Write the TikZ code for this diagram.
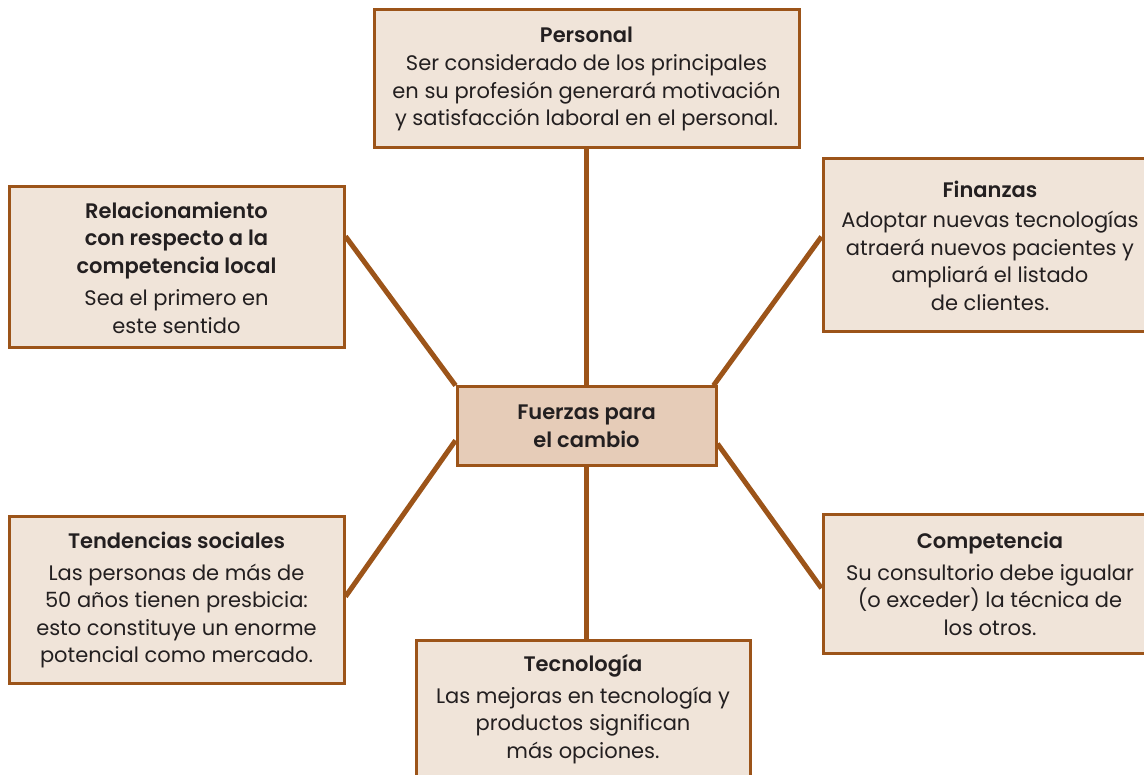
\documentclass[tikz,border=0pt]{standalone}
\usepackage{fontspec}
\setmainfont{Poppins}[BoldFont={Poppins SemiBold}]
\usetikzlibrary{calc,backgrounds}
\definecolor{brn}{HTML}{9C5419}
\definecolor{boxfill}{HTML}{F0E4D9}
\definecolor{cenfill}{HTML}{E6CCB8}
\definecolor{txt}{HTML}{231F20}
\tikzset{
  fbox/.style={draw=brn, line width=3pt, fill=boxfill, align=center, inner sep=0pt,
    text=txt, font=\fontsize{21}{27.5}\selectfont},
  link/.style={draw=brn, line width=5pt},
}
\begin{document}
\begin{tikzpicture}[x=1pt,y=-1pt]
\useasboundingbox (0,0) rectangle (1144,775);
\clip (0,0) rectangle (1144,775);
\node[fbox, minimum width=425, minimum height=138] (per) at (586.5,79)
  {\textbf{Personal}\\[1pt]Ser considerado de los principales\\en su profesión generará motivación\\y satisfacción laboral en el personal.};
\node[fbox, fill=cenfill, minimum width=259, minimum height=79] (cen) at (586.5,426.5)
  {\textbf{Fuerzas para}\\\textbf{el cambio}};
\node[fbox, minimum width=335, minimum height=161] (rel) at (176.5,267.5)
  {\textbf{Relacionamiento}\\\textbf{con respecto a la}\\\textbf{competencia local}\\[5pt]Sea el primero en\\este sentido};
\node[fbox, minimum width=334, minimum height=173] (fin) at (990,245.5)
  {\textbf{Finanzas}\\[3pt]Adoptar nuevas tecnologías\\atraerá nuevos pacientes y\\ampliará el listado\\de clientes.};
\node[fbox, minimum width=335, minimum height=166] (tend) at (176.5,600)
  {\textbf{Tendencias sociales}\\[4pt]Las personas de más de\\50 años tienen presbicia:\\esto constituye un enorme\\potencial como mercado.};
\node[fbox, minimum width=334, minimum height=138] (comp) at (990,584)
  {\textbf{Competencia}\\[4pt]Su consultorio debe igualar\\(o exceder) la técnica de\\los otros.};
\node[fbox, minimum width=334, minimum height=138] (tec) at (583,709)
  {\textbf{Tecnología}\\[4pt]Las mejoras en tecnología y\\productos significan\\más opciones.};
\begin{scope}[on background layer]
\draw[link] (per.south) -- (cen.north);
\draw[link] (cen.south) -- (cen.south |- tec.north);
\draw[link] ($(rel.north east)!0.31!(rel.south east)$) -- (cen.north west);
\draw[link] ($(tend.north east)!0.48!(tend.south east)$) -- ($(cen.north west)!0.67!(cen.south west)$);
\draw[link] ($(fin.north west)!0.45!(fin.south west)$) -- ($(cen.north east)+(-4,0)$);
\draw[link] ($(comp.north west)!0.53!(comp.south west)$) -- ($(cen.north east)!0.71!(cen.south east)$);
\end{scope}
\end{tikzpicture}
\end{document}
